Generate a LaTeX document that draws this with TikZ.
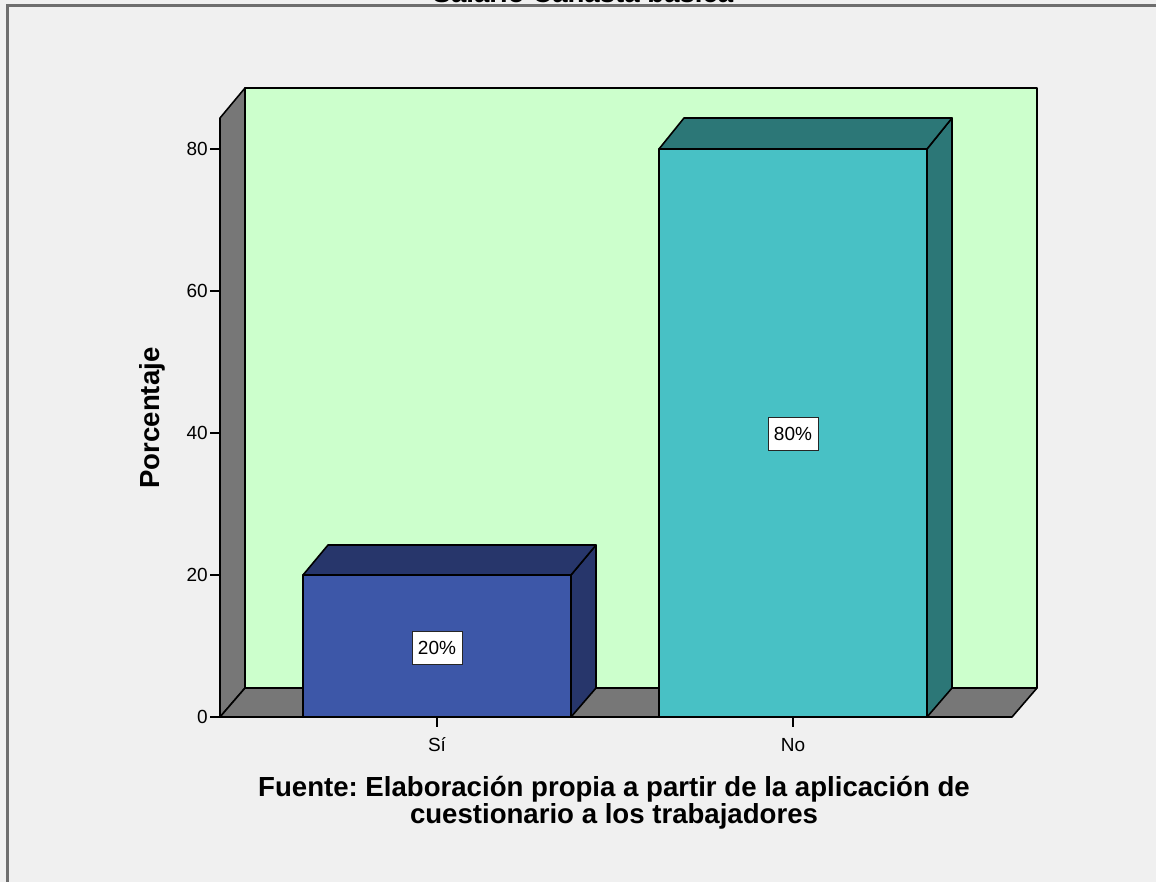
\documentclass[tikz,border=0pt]{standalone}
\usepackage{fontspec}
\setmainfont{Liberation Sans}
\definecolor{bgc}{HTML}{F0F0F0}
\definecolor{wallc}{HTML}{CCFFCC}
\definecolor{grayc}{HTML}{777777}
\definecolor{siF}{HTML}{3D57A8}
\definecolor{siD}{HTML}{27366B}
\definecolor{noF}{HTML}{48C1C5}
\definecolor{noD}{HTML}{2C7777}
\definecolor{framec}{HTML}{6E6E6E}
\frenchspacing
\begin{document}
\begin{tikzpicture}[x=1pt,y=-1pt,
  edge/.style={draw=black, line width=1.6pt, line join=round},
  ticklab/.style={font=\fontsize{19}{19}\selectfont, anchor=east, inner sep=0pt},
  catlab/.style={font=\fontsize{19}{19}\selectfont, inner sep=0pt},
  valbox/.style={draw=black!85, line width=1pt, fill=white, font=\fontsize{19}{19}\selectfont, minimum width=50pt, minimum height=33pt, inner sep=1pt},
  bigbold/.style={font=\fontsize{27.6}{27}\selectfont\bfseries}]
\useasboundingbox (0,0) rectangle (1156,882);
\clip (0,0) rectangle (1156,882);
\fill[bgc] (0,0) rectangle (1156,882);
% frame
\draw[framec, line width=3pt] (7,890) -- (7,6) -- (1160,6);
% title (cut off at top, as in the reference)
\node[bigbold, anchor=base] (title) at (583,3) {Salario Canasta básica};
% back wall
\filldraw[fill=wallc, edge] (245,88) rectangle (1037,688);
% left wall
\filldraw[fill=grayc, edge] (220,118) -- (245,88) -- (245,688) -- (220,717) -- cycle;
% floor
\filldraw[fill=grayc, edge] (220,717) -- (245,688) -- (1037,688) -- (1012,717) -- cycle;
% y ticks
\foreach \v/\y in {0/717,20/575,40/433,60/291,80/149}{
  \draw[black, line width=1.4pt] (210,\y) -- (220,\y);
  \node[ticklab] (t\v) at (208,\y) {\v};
}
% bar Si
\filldraw[fill=siD, edge] (571,575) -- (596,545) -- (596,688) -- (571,717) -- cycle;
\filldraw[fill=siD, edge] (303,575) -- (328,545) -- (596,545) -- (571,575) -- cycle;
\filldraw[fill=siF, edge] (303,575) rectangle (571,717);
% bar No
\filldraw[fill=noD, edge] (927,149) -- (952,118) -- (952,688) -- (927,717) -- cycle;
\filldraw[fill=noD, edge] (659,149) -- (684,118) -- (952,118) -- (927,149) -- cycle;
\filldraw[fill=noF, edge] (659,149) rectangle (927,717);
% value labels
\node[valbox] (v20) at (437,648) {20\%};
\node[valbox] (v80) at (793,434) {80\%};
% category ticks and labels
\draw[black, line width=1.4pt] (437,717) -- (437,727);
\draw[black, line width=1.4pt] (793,717) -- (793,727);
\node[catlab] (cSi) at (437,745) {Sí};
\node[catlab] (cNo) at (793,745) {No};
% axis title
\node[bigbold, rotate=90] (ytitle) at (152,418) {Porcentaje};
% caption
\node[bigbold, align=center] (cap) at (614,803) {Fuente: Elaboración propia a partir de la aplicación de\\cuestionario a los trabajadores};
\end{tikzpicture}
\end{document}
